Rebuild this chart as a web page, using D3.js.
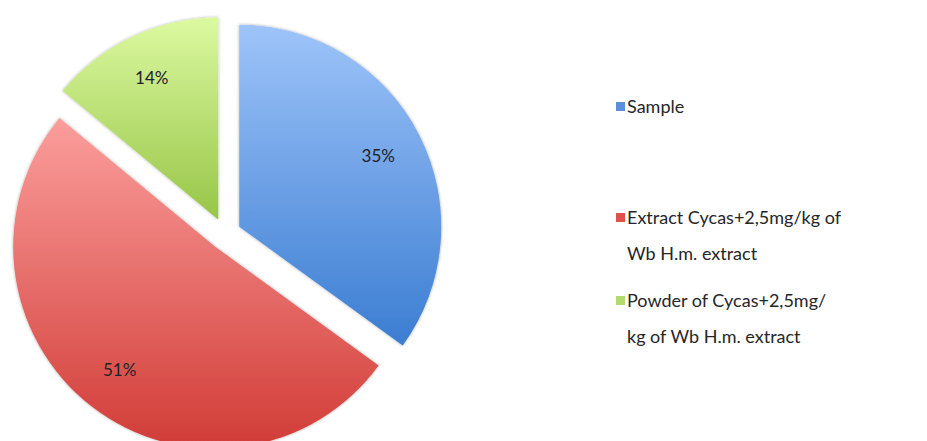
<!DOCTYPE html>
<html>
<head>
<meta charset="utf-8">
<script src="https://cdn.jsdelivr.net/npm/d3@7"></script>
<style>
html,body{margin:0;padding:0;background:#fff;}
svg{display:block;}
</style>
</head>
<body>
<svg id="chart" width="927" height="441"></svg>
<script>
const categories = ["Sample", "Extract Cycas+2,5mg/kg of Wb H.m. extract", "Powder of Cycas+2,5mg/kg of Wb H.m. extract"];
const values = [35, 51, 14];
const valueLabels = ["35%", "51%", "14%"];
const legendLines = [["Sample"], ["Extract Cycas+2,5mg/kg of", "Wb H.m. extract"], ["Powder of Cycas+2,5mg/", "kg of Wb H.m. extract"]];
const topColors = ["#9ec4f9", "#fb9e9c", "#dcf9a0"];
const bottomColors = ["#3b7dd2", "#d13c37", "#97c548"];
const legendColors = ["#5a8fdc", "#e0514d", "#b2da6c"];

const svg = d3.select("#chart");
const defs = svg.append("defs");

categories.forEach((c, i) => {
  const g = defs.append("linearGradient").attr("id", "grad" + i)
    .attr("x1", 0).attr("y1", 0).attr("x2", 0).attr("y2", 1);
  g.append("stop").attr("offset", "0%").attr("stop-color", topColors[i]);
  g.append("stop").attr("offset", "100%").attr("stop-color", bottomColors[i]);
});
const f = defs.append("filter").attr("id", "shadow").attr("x", "-10%").attr("y", "-10%").attr("width", "120%").attr("height", "120%");
f.append("feDropShadow").attr("dx", 0).attr("dy", 0).attr("stdDeviation", 1.6).attr("flood-color", "#000").attr("flood-opacity", 0.35);

const cx = 225, cy = 234, r = 202, explode = 16, labelR = 156;
const pie = d3.pie().sort(null).value(d => d);
const arcs = pie(values);
const arc = d3.arc().innerRadius(0).outerRadius(r);
const labelArc = d3.arc().innerRadius(labelR).outerRadius(labelR);

const g = svg.append("g").attr("transform", `translate(${cx},${cy})`);
const slices = g.selectAll("g.slice").data(arcs).enter().append("g")
  .attr("class", "slice")
  .attr("transform", d => {
    const a = (d.startAngle + d.endAngle) / 2;
    return `translate(${explode * Math.sin(a)},${-explode * Math.cos(a)})`;
  });
slices.append("path").attr("d", arc)
  .attr("fill", (d, i) => `url(#grad${i})`)
  .attr("filter", "url(#shadow)");
slices.append("text")
  .attr("transform", d => `translate(${labelArc.centroid(d)})`)
  .attr("text-anchor", "middle").attr("dy", "0.35em")
  .attr("font-family", "Lato, 'Open Sans', sans-serif").attr("font-size", 17)
  .attr("fill", "#1e2228")
  .text((d, i) => valueLabels[i]);

const legendY = [107, 218, 301];
const lineH = 36;
const lg = svg.append("g");
categories.forEach((c, i) => {
  const item = lg.append("g").attr("transform", `translate(616,${legendY[i]})`);
  item.append("rect").attr("x", 0).attr("y", -5).attr("width", 9).attr("height", 9)
    .attr("fill", legendColors[i]);
  const t = item.append("text")
    .attr("font-family", "Lato, 'Open Sans', sans-serif").attr("font-size", 18)
    .attr("fill", "#262626");
  legendLines[i].forEach((ln, j) => {
    t.append("tspan").attr("x", 11).attr("y", j * lineH).attr("dy", "0.35em").text(ln);
  });
});
</script>
</body>
</html>
